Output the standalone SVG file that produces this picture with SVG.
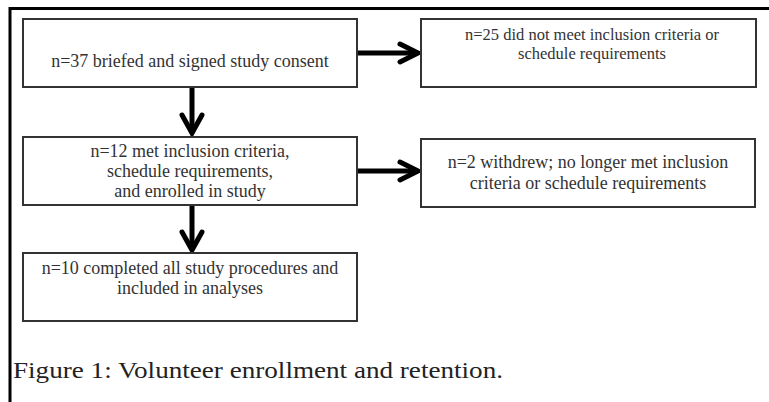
<svg xmlns="http://www.w3.org/2000/svg" width="769" height="402" viewBox="0 0 769 402">
<defs>
<style>
.box{fill:#fff;stroke:#333;stroke-width:2}
.t{font-family:"Liberation Serif","Times New Roman",serif;font-size:18px;fill:#333;text-anchor:middle}
.s{font-size:16.5px}
.cap{font-family:"Liberation Serif","Times New Roman",serif;font-size:24px;fill:#222}
.ln{stroke:#000;stroke-width:5;fill:none}
.hd{stroke:#000;stroke-width:5;fill:none;stroke-linecap:round;stroke-linejoin:miter}
</style>
</defs>
<rect width="769" height="402" fill="#fff"/>
<g id="frame">
<line x1="10" y1="8.5" x2="769" y2="8.5" stroke="#000" stroke-width="3"/>
<line x1="10" y1="7" x2="10" y2="402" stroke="#000" stroke-width="3"/>
</g>
<g id="connectors">
<line class="ln" x1="358" y1="53" x2="418" y2="53"/>
<polyline class="hd" points="400,44 418,53 400,62"/>
<line class="ln" x1="358" y1="171" x2="418" y2="171"/>
<polyline class="hd" points="400,162 418,171 400,180"/>
<line class="ln" x1="192" y1="88" x2="192" y2="133"/>
<polyline class="hd" points="182,115 192,133 202,115"/>
<line class="ln" x1="192" y1="206" x2="192" y2="250"/>
<polyline class="hd" points="182,232 192,250 202,232"/>
</g>
<g id="n1">
<rect class="box" x="23" y="19" width="334" height="68"/>
<text class="t" x="190" y="67">n=37 briefed and signed study consent</text>
</g>
<g id="n2">
<rect class="box" x="421" y="19" width="335" height="68"/>
<text class="t s" x="592" y="40">n=25 did not meet inclusion criteria or</text>
<text class="t s" x="592" y="59">schedule requirements</text>
</g>
<g id="n3">
<rect class="box" x="23" y="137" width="334" height="68"/>
<text class="t" x="190" y="157">n=12 met inclusion criteria,</text>
<text class="t" x="190" y="177">schedule requirements,</text>
<text class="t" x="190" y="197">and enrolled in study</text>
</g>
<g id="n4">
<rect class="box" x="421" y="139" width="334" height="68"/>
<text class="t" x="588" y="168">n=2 withdrew; no longer met inclusion</text>
<text class="t" x="588" y="189">criteria or schedule requirements</text>
</g>
<g id="n5">
<rect class="box" x="23" y="253" width="334" height="68"/>
<text class="t" x="190" y="274">n=10 completed all study procedures and</text>
<text class="t" x="190" y="294">included in analyses</text>
</g>
<text class="cap" x="13" y="378" textLength="490" lengthAdjust="spacingAndGlyphs">Figure 1: Volunteer enrollment and retention.</text>
</svg>
